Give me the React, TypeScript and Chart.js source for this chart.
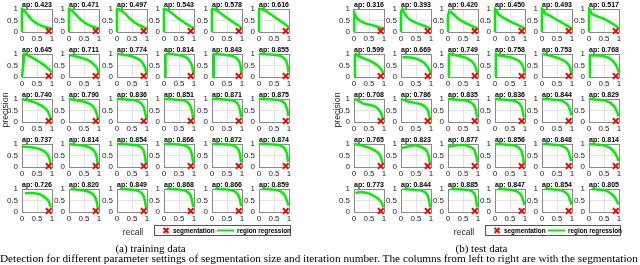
import React, { useEffect, useRef } from "react";
import { Chart, registerables } from "chart.js";

Chart.register(...registerables);

type P = [number, number];

// ---------- data ----------
const tickValues = [0, 0.5, 1];

const trainAP = [
  0.423, 0.471, 0.497, 0.543, 0.578, 0.616,
  0.645, 0.711, 0.774, 0.814, 0.843, 0.855,
  0.74, 0.79, 0.836, 0.851, 0.871, 0.875,
  0.737, 0.814, 0.854, 0.866, 0.872, 0.874,
  0.726, 0.82, 0.849, 0.868, 0.866, 0.859,
];

const testAP = [
  0.316, 0.393, 0.42, 0.45, 0.493, 0.517,
  0.599, 0.669, 0.749, 0.758, 0.753, 0.768,
  0.708, 0.786, 0.835, 0.836, 0.844, 0.829,
  0.765, 0.823, 0.877, 0.856, 0.848, 0.814,
  0.773, 0.844, 0.885, 0.847, 0.854, 0.805,
];

const segmentationTrain: P = [0.89, 0.04];
const segmentationTest: P = [0.89, 0.04];

const trainRow1: P[][] = [
  [[0, 0], [0, 1], [0.05, 0.97], [0.1, 0.9], [0.2, 0.72], [0.3, 0.57], [0.4, 0.45], [0.5, 0.36], [0.6, 0.3], [0.7, 0.25], [0.8, 0.21], [0.9, 0.18], [1, 0.13]],
  [[0, 0], [0, 1], [0.05, 0.98], [0.1, 0.93], [0.2, 0.8], [0.3, 0.66], [0.4, 0.53], [0.5, 0.42], [0.6, 0.34], [0.7, 0.28], [0.8, 0.23], [0.9, 0.19], [1, 0.14]],
  [[0, 0], [0, 1], [0.1, 0.97], [0.2, 0.88], [0.3, 0.76], [0.4, 0.62], [0.5, 0.5], [0.6, 0.4], [0.7, 0.32], [0.8, 0.26], [0.9, 0.2], [1, 0.14]],
  [[0, 0], [0, 1], [0.1, 0.97], [0.2, 0.88], [0.3, 0.78], [0.4, 0.67], [0.5, 0.57], [0.6, 0.48], [0.7, 0.39], [0.8, 0.31], [0.9, 0.23], [1, 0.16]],
  [[0, 0], [0, 1], [0.1, 0.98], [0.2, 0.9], [0.3, 0.8], [0.4, 0.7], [0.5, 0.61], [0.6, 0.52], [0.7, 0.43], [0.8, 0.35], [0.9, 0.26], [1, 0.18]],
  [[0, 0], [0, 1], [0.1, 0.99], [0.2, 0.93], [0.3, 0.85], [0.4, 0.76], [0.5, 0.67], [0.6, 0.58], [0.7, 0.49], [0.8, 0.4], [0.9, 0.3], [1, 0.2]],
];

const trainRow2: P[][] = [
  [[0, 0], [0.08, 1], [0.2, 0.94], [0.3, 0.87], [0.4, 0.8], [0.5, 0.72], [0.6, 0.64], [0.7, 0.55], [0.8, 0.45], [0.9, 0.33], [1, 0.2]],
  [[0, 0.95], [0.1, 0.93], [0.2, 0.9], [0.3, 0.87], [0.4, 0.84], [0.5, 0.8], [0.6, 0.75], [0.7, 0.68], [0.8, 0.58], [0.9, 0.45], [0.95, 0.33], [1, 0.15]],
  [[0, 1], [0.1, 0.99], [0.2, 0.97], [0.3, 0.95], [0.4, 0.92], [0.5, 0.89], [0.6, 0.85], [0.7, 0.79], [0.8, 0.7], [0.9, 0.52], [0.95, 0.35], [0.98, 0.12]],
  [[0.05, 0], [0.05, 0.95], [0.1, 1], [0.2, 1], [0.3, 0.99], [0.4, 0.97], [0.5, 0.95], [0.6, 0.92], [0.7, 0.88], [0.8, 0.8], [0.9, 0.6], [0.95, 0.4], [0.98, 0.12]],
  [[0.05, 0], [0.06, 1], [0.2, 0.99], [0.3, 0.98], [0.4, 0.97], [0.5, 0.95], [0.6, 0.93], [0.7, 0.9], [0.8, 0.84], [0.9, 0.7], [0.95, 0.5], [0.98, 0.15]],
  [[0, 1], [0.2, 0.99], [0.4, 0.98], [0.5, 0.97], [0.6, 0.95], [0.7, 0.92], [0.8, 0.86], [0.9, 0.72], [0.95, 0.5], [0.99, 0.2]],
];

const trainRow3: P[][] = [
  [[0, 1], [0.1, 0.97], [0.2, 0.94], [0.3, 0.9], [0.4, 0.86], [0.5, 0.81], [0.6, 0.75], [0.7, 0.67], [0.8, 0.56], [0.88, 0.42], [0.94, 0.22], [0.97, 0.08]],
  [[0, 1], [0.2, 0.96], [0.4, 0.91], [0.5, 0.88], [0.6, 0.84], [0.7, 0.78], [0.8, 0.68], [0.88, 0.52], [0.94, 0.3], [0.97, 0.1]],
  [[0, 1], [0.2, 0.99], [0.4, 0.97], [0.5, 0.96], [0.6, 0.94], [0.7, 0.9], [0.8, 0.82], [0.88, 0.68], [0.94, 0.42], [0.98, 0.12]],
  [[0, 1], [0.2, 0.99], [0.4, 0.97], [0.5, 0.96], [0.6, 0.95], [0.7, 0.92], [0.8, 0.85], [0.88, 0.7], [0.94, 0.45], [0.97, 0.15]],
  [[0, 1], [0.3, 0.99], [0.5, 0.97], [0.6, 0.96], [0.7, 0.93], [0.8, 0.87], [0.88, 0.74], [0.94, 0.5], [0.97, 0.2]],
  [[0, 1], [0.3, 0.99], [0.5, 0.98], [0.6, 0.96], [0.7, 0.94], [0.8, 0.88], [0.88, 0.76], [0.94, 0.55], [0.98, 0.25]],
];

const trainRow4: P[][] = [
  [[0, 0.88], [0.1, 0.88], [0.2, 0.87], [0.3, 0.86], [0.4, 0.84], [0.5, 0.81], [0.6, 0.77], [0.7, 0.71], [0.8, 0.62], [0.88, 0.48], [0.93, 0.28], [0.96, 0.08]],
  [[0, 1], [0.2, 0.97], [0.4, 0.94], [0.5, 0.92], [0.6, 0.89], [0.7, 0.84], [0.8, 0.76], [0.88, 0.62], [0.93, 0.4], [0.96, 0.1]],
  [[0, 1], [0.3, 0.99], [0.5, 0.97], [0.6, 0.96], [0.7, 0.93], [0.8, 0.87], [0.88, 0.74], [0.93, 0.5], [0.97, 0.12]],
  [[0, 1], [0.3, 0.99], [0.5, 0.98], [0.6, 0.96], [0.7, 0.93], [0.8, 0.87], [0.88, 0.75], [0.93, 0.55], [0.97, 0.18]],
  [[0, 1], [0.3, 0.99], [0.5, 0.98], [0.6, 0.97], [0.7, 0.94], [0.8, 0.88], [0.88, 0.77], [0.93, 0.57], [0.97, 0.2]],
  [[0, 1], [0.3, 0.99], [0.5, 0.98], [0.6, 0.97], [0.7, 0.94], [0.8, 0.88], [0.88, 0.77], [0.93, 0.58], [0.97, 0.22]],
];

const trainRow5: P[][] = [
  [[0.1, 0.82], [0.2, 0.83], [0.3, 0.83], [0.4, 0.82], [0.5, 0.8], [0.6, 0.76], [0.7, 0.7], [0.8, 0.6], [0.88, 0.48], [0.94, 0.3], [0.97, 0.2]],
  [[0.05, 1], [0.2, 0.98], [0.4, 0.95], [0.5, 0.93], [0.6, 0.9], [0.7, 0.85], [0.8, 0.77], [0.88, 0.62], [0.93, 0.42], [0.96, 0.15]],
  [[0.1, 1], [0.3, 0.99], [0.5, 0.97], [0.6, 0.95], [0.7, 0.92], [0.8, 0.85], [0.88, 0.72], [0.93, 0.5], [0.97, 0.15]],
  [[0.1, 1], [0.3, 0.99], [0.5, 0.98], [0.6, 0.96], [0.7, 0.93], [0.8, 0.86], [0.88, 0.74], [0.93, 0.55], [0.97, 0.22]],
  [[0.1, 1], [0.3, 0.99], [0.5, 0.98], [0.6, 0.96], [0.7, 0.93], [0.8, 0.86], [0.88, 0.73], [0.93, 0.55], [0.97, 0.25]],
  [[0.1, 1], [0.3, 0.99], [0.5, 0.97], [0.6, 0.95], [0.7, 0.91], [0.8, 0.82], [0.88, 0.68], [0.94, 0.45], [0.99, 0.28]],
];

const testRow1: P[][] = [
  [[0, 0], [0, 0.75], [0.02, 0.82], [0.05, 0.72], [0.1, 0.6], [0.2, 0.48], [0.3, 0.42], [0.4, 0.37], [0.5, 0.33], [0.6, 0.3], [0.7, 0.26], [0.8, 0.22], [0.9, 0.18], [1, 0.14]],
  [[0, 0], [0, 0.9], [0.05, 1], [0.1, 0.85], [0.2, 0.65], [0.3, 0.53], [0.4, 0.46], [0.5, 0.4], [0.6, 0.35], [0.7, 0.3], [0.8, 0.25], [0.9, 0.2], [1, 0.13]],
  [[0, 0], [0, 0.75], [0.05, 0.88], [0.1, 0.87], [0.2, 0.75], [0.3, 0.62], [0.4, 0.52], [0.5, 0.45], [0.6, 0.38], [0.7, 0.32], [0.8, 0.26], [0.9, 0.2], [1, 0.12]],
  [[0, 0], [0, 1], [0.05, 0.92], [0.1, 0.8], [0.2, 0.68], [0.3, 0.6], [0.4, 0.53], [0.5, 0.46], [0.6, 0.4], [0.7, 0.34], [0.8, 0.28], [0.9, 0.22], [1, 0.15]],
  [[0, 0], [0, 1], [0.05, 0.95], [0.1, 0.8], [0.2, 0.75], [0.3, 0.68], [0.4, 0.6], [0.5, 0.52], [0.6, 0.45], [0.7, 0.38], [0.8, 0.3], [0.9, 0.22], [1, 0.15]],
  [[0, 0], [0, 1], [0.05, 0.9], [0.1, 0.78], [0.2, 0.72], [0.3, 0.67], [0.4, 0.62], [0.5, 0.57], [0.6, 0.5], [0.7, 0.43], [0.8, 0.35], [0.9, 0.26], [1, 0.15]],
];

const testRow2: P[][] = [
  [[0.03, 0], [0.03, 0.95], [0.06, 1], [0.1, 0.95], [0.2, 0.88], [0.3, 0.82], [0.4, 0.77], [0.5, 0.72], [0.6, 0.65], [0.7, 0.58], [0.8, 0.48], [0.9, 0.35], [0.96, 0.2], [1, 0.1]],
  [[0.05, 0.85], [0.1, 0.86], [0.2, 0.86], [0.3, 0.85], [0.4, 0.83], [0.5, 0.8], [0.6, 0.75], [0.7, 0.68], [0.8, 0.58], [0.9, 0.42], [0.95, 0.3], [1, 0.12]],
  [[0.03, 0], [0.03, 0.95], [0.05, 1], [0.2, 0.96], [0.3, 0.93], [0.4, 0.9], [0.5, 0.87], [0.6, 0.83], [0.7, 0.77], [0.8, 0.68], [0.9, 0.5], [0.95, 0.3], [0.98, 0.1]],
  [[0.03, 0], [0.03, 1], [0.1, 0.95], [0.2, 0.92], [0.3, 0.9], [0.4, 0.88], [0.5, 0.86], [0.6, 0.82], [0.7, 0.77], [0.8, 0.7], [0.9, 0.55], [0.95, 0.4], [0.98, 0.2]],
  [[0, 1], [0.1, 0.98], [0.2, 0.95], [0.3, 0.92], [0.4, 0.88], [0.5, 0.84], [0.6, 0.79], [0.7, 0.73], [0.8, 0.65], [0.9, 0.5], [0.95, 0.35], [0.98, 0.1]],
  [[0.03, 0], [0.03, 0.9], [0.06, 0.95], [0.2, 0.94], [0.3, 0.93], [0.4, 0.92], [0.5, 0.9], [0.6, 0.86], [0.7, 0.8], [0.8, 0.7], [0.9, 0.52], [0.95, 0.38], [1, 0.2]],
];

const testRow3: P[][] = [
  [[0, 1], [0.1, 0.95], [0.2, 0.88], [0.3, 0.8], [0.4, 0.77], [0.5, 0.75], [0.6, 0.72], [0.7, 0.67], [0.8, 0.58], [0.9, 0.4], [0.95, 0.2], [0.97, 0.08]],
  [[0, 1], [0.1, 0.95], [0.2, 0.9], [0.3, 0.87], [0.4, 0.85], [0.5, 0.83], [0.6, 0.8], [0.7, 0.75], [0.8, 0.67], [0.88, 0.55], [0.94, 0.3], [0.97, 0.1]],
  [[0, 1], [0.2, 0.98], [0.4, 0.96], [0.5, 0.95], [0.6, 0.93], [0.7, 0.89], [0.8, 0.82], [0.88, 0.7], [0.93, 0.5], [0.97, 0.2]],
  [[0, 1], [0.2, 0.98], [0.4, 0.96], [0.5, 0.95], [0.6, 0.93], [0.7, 0.89], [0.8, 0.82], [0.88, 0.68], [0.93, 0.45], [0.96, 0.2]],
  [[0, 1], [0.2, 0.99], [0.4, 0.97], [0.5, 0.96], [0.6, 0.94], [0.7, 0.9], [0.8, 0.82], [0.88, 0.7], [0.94, 0.5], [0.98, 0.28]],
  [[0, 1], [0.2, 0.98], [0.4, 0.96], [0.5, 0.94], [0.6, 0.9], [0.7, 0.84], [0.8, 0.74], [0.88, 0.6], [0.94, 0.42], [0.99, 0.25]],
];

const testRow4: P[][] = [
  [[0, 1], [0.1, 0.98], [0.2, 0.95], [0.3, 0.92], [0.4, 0.88], [0.5, 0.84], [0.6, 0.78], [0.7, 0.71], [0.8, 0.62], [0.88, 0.48], [0.93, 0.3], [0.96, 0.12]],
  [[0, 0.82], [0.1, 0.85], [0.2, 0.88], [0.3, 0.91], [0.4, 0.93], [0.5, 0.93], [0.6, 0.9], [0.7, 0.85], [0.8, 0.78], [0.88, 0.65], [0.93, 0.45], [0.96, 0.15]],
  [[0, 0.88], [0.1, 0.9], [0.2, 0.92], [0.3, 0.94], [0.4, 0.96], [0.5, 0.96], [0.6, 0.94], [0.7, 0.9], [0.8, 0.84], [0.88, 0.74], [0.94, 0.52], [0.98, 0.2]],
  [[0, 1], [0.2, 0.99], [0.4, 0.97], [0.5, 0.96], [0.6, 0.94], [0.7, 0.91], [0.8, 0.84], [0.88, 0.7], [0.93, 0.45], [0.96, 0.15]],
  [[0, 1], [0.2, 0.99], [0.4, 0.97], [0.5, 0.96], [0.6, 0.94], [0.7, 0.9], [0.8, 0.83], [0.88, 0.68], [0.93, 0.48], [0.97, 0.25]],
  [[0, 1], [0.2, 0.98], [0.4, 0.96], [0.5, 0.94], [0.6, 0.9], [0.7, 0.83], [0.8, 0.72], [0.88, 0.58], [0.94, 0.42], [0.99, 0.25]],
];

const testRow5: P[][] = [
  [[0.05, 0.82], [0.15, 0.86], [0.3, 0.86], [0.4, 0.84], [0.5, 0.8], [0.6, 0.74], [0.7, 0.67], [0.8, 0.58], [0.88, 0.48], [0.94, 0.35], [0.98, 0.2]],
  [[0.1, 1], [0.3, 0.98], [0.5, 0.96], [0.6, 0.94], [0.7, 0.92], [0.8, 0.86], [0.88, 0.75], [0.93, 0.55], [0.97, 0.2]],
  [[0.1, 1], [0.3, 0.99], [0.5, 0.98], [0.6, 0.97], [0.7, 0.95], [0.8, 0.9], [0.88, 0.8], [0.93, 0.6], [0.97, 0.2]],
  [[0.1, 1], [0.3, 0.99], [0.5, 0.97], [0.6, 0.95], [0.7, 0.91], [0.8, 0.84], [0.88, 0.72], [0.94, 0.5], [0.98, 0.3]],
  [[0.1, 1], [0.3, 0.99], [0.5, 0.97], [0.6, 0.95], [0.7, 0.91], [0.8, 0.84], [0.88, 0.72], [0.94, 0.5], [0.98, 0.32]],
  [[0.1, 1], [0.3, 0.98], [0.5, 0.95], [0.6, 0.91], [0.7, 0.84], [0.8, 0.73], [0.88, 0.6], [0.94, 0.45], [0.98, 0.32]],
];

const trainCurves = [...trainRow1, ...trainRow2, ...trainRow3, ...trainRow4, ...trainRow5];
const testCurves = [...testRow1, ...testRow2, ...testRow3, ...testRow4, ...testRow5];

// ---------- layout / style ----------
const SANS = "'Liberation Sans', Arial, Helvetica, sans-serif";
const SERIF = "'Liberation Serif', 'Times New Roman', serif";
const Y_AXIS_W = 22;
const TITLE_H = 9;
const X_AXIS_H = 12;
const PLOT_W = 32;
const PLOT_H = 23;
const PAD_R = 4;
const CW = Y_AXIS_W + PLOT_W + PAD_R;
const CH = TITLE_H + PLOT_H + X_AXIS_H;
const ROW_Y0 = 9;
const ROW_PITCH = 45;
const GREEN = "#00f000";
const RED = "#ff0000";
const BOX = "#8a8a8a";
const GRID = "#e4e4e4";
const TXT = "#262626";

function Mini({ left, top, ap, curve, seg }: { left: number; top: number; ap: number; curve: P[]; seg: P }) {
  const ref = useRef<HTMLCanvasElement>(null);
  useEffect(() => {
    const tickFont = { family: SANS, size: 8, lineHeight: 1 };
    const gridColor = (ctx: any) => (ctx.tick && ctx.tick.value === 0.5 ? GRID : BOX);
    const chart = new Chart(ref.current as HTMLCanvasElement, {
      type: "line",
      data: {
        datasets: [
          {
            type: "line",
            label: "segmentation",
            data: [{ x: seg[0], y: seg[1] }],
            showLine: false,
            pointStyle: "crossRot",
            pointRadius: 4,
            pointBorderWidth: 2,
            pointBorderColor: RED,
            pointBackgroundColor: RED,
            borderColor: RED,
            backgroundColor: RED,
            clip: false,
            order: 0,
          } as any,
          {
            type: "line",
            label: "region regression",
            data: curve.map(([x, y]) => ({ x, y })),
            borderColor: GREEN,
            backgroundColor: GREEN,
            borderWidth: 2.5,
            pointRadius: 0,
            tension: 0,
            fill: false,
            clip: 2,
            order: 1,
          } as any,
        ],
      },
      options: {
        animation: false,
        responsive: false,
        devicePixelRatio: 1,
        events: [],
        layout: { padding: { left: 0, right: PAD_R, top: 0, bottom: 0 } },
        plugins: {
          legend: { display: false },
          tooltip: { enabled: false },
          title: {
            display: true,
            text: "ap: " + ap.toFixed(3),
            fullSize: false,
            color: "#000",
            font: { family: SANS, size: 7.5, weight: "bold", lineHeight: 1.2 },
            padding: { top: 0, bottom: 0 },
          },
        },
        scales: {
          x: {
            type: "linear",
            min: 0,
            max: 1,
            afterBuildTicks: (s: any) => {
              s.ticks = tickValues.map((v) => ({ value: v }));
            },
            afterFit: (s: any) => {
              s.height = X_AXIS_H;
            },
            ticks: {
              font: tickFont,
              color: TXT,
              padding: 3,
              maxRotation: 0,
              autoSkip: false,
              callback: (v: any) => String(v),
            },
            grid: { color: gridColor, drawTicks: false, lineWidth: 1 },
            border: { color: BOX, width: 1 },
          },
          y: {
            type: "linear",
            min: 0,
            max: 1,
            afterBuildTicks: (s: any) => {
              s.ticks = tickValues.map((v) => ({ value: v }));
            },
            afterFit: (s: any) => {
              s.width = Y_AXIS_W;
            },
            ticks: {
              font: tickFont,
              color: TXT,
              padding: 4,
              autoSkip: false,
              callback: (v: any) => String(v),
            },
            grid: { color: gridColor, drawTicks: false, lineWidth: 1 },
            border: { color: BOX, width: 1 },
          },
        },
      } as any,
    });
    return () => chart.destroy();
  }, []);
  return (
    <canvas
      ref={ref}
      width={CW}
      height={CH}
      style={{ position: "absolute", left: left - Y_AXIS_W, top: top - TITLE_H, width: CW, height: CH }}
    />
  );
}

function Panel({ x0, pitch, aps, curves, seg, caption }: { x0: number; pitch: number; aps: number[]; curves: P[][]; seg: P; caption: string }) {
  const colX = (c: number) => Math.round(x0 + pitch * c);
  const right = colX(5) + PLOT_W;
  const items: any[] = [];
  for (let r = 0; r < 5; r++) {
    for (let c = 0; c < 6; c++) {
      const i = r * 6 + c;
      items.push(<Mini key={i} left={colX(c)} top={ROW_Y0 + ROW_PITCH * r} ap={aps[i]} curve={curves[i]} seg={seg} />);
    }
  }
  const legendLeft = colX(3) - 10;
  const recallCx = colX(2) + PLOT_W / 2;
  return (
    <>
      {items}
      <div
        style={{
          position: "absolute",
          left: x0 - 17 - 30,
          top: 110 - 5,
          width: 60,
          height: 10,
          lineHeight: "10px",
          textAlign: "center",
          fontFamily: SANS,
          fontSize: 8.8,
          color: TXT,
          transform: "rotate(-90deg)",
        }}
      >
        precision
      </div>
      <div
        style={{
          position: "absolute",
          left: recallCx - 30,
          top: 231.5 - 5,
          width: 60,
          height: 10,
          lineHeight: "10px",
          textAlign: "center",
          fontFamily: SANS,
          fontSize: 8.5,
          color: TXT,
        }}
      >
        recall
      </div>
      <div
        style={{
          position: "absolute",
          left: legendLeft,
          top: 225,
          width: right - legendLeft,
          height: 11,
          boxSizing: "border-box",
          border: "1px solid #555",
          background: "#fff",
          fontFamily: SANS,
          fontSize: 6.4,
          fontWeight: "bold",
          color: "#000",
        }}
      >
        <svg width={10} height={9} style={{ position: "absolute", left: 6, top: 0 }}>
          <path d="M2.5 2 L7.5 7 M7.5 2 L2.5 7" stroke={RED} strokeWidth={2} />
        </svg>
        <span style={{ position: "absolute", left: 18, top: 0, lineHeight: "9px", whiteSpace: "nowrap" }}>segmentation</span>
        <svg width={18} height={9} style={{ position: "absolute", left: 62, top: 0 }}>
          <path d="M0 4.5 L17 4.5" stroke={GREEN} strokeWidth={2} />
        </svg>
        <span style={{ position: "absolute", left: 82, top: 0, lineHeight: "9px", whiteSpace: "nowrap" }}>region regression</span>
      </div>
      <div
        style={{
          position: "absolute",
          left: (x0 + right) / 2 - 80 - 6,
          top: 242,
          width: 160,
          textAlign: "center",
          fontFamily: SERIF,
          fontSize: 11,
          lineHeight: "12px",
          color: "#000",
        }}
      >
        {caption}
      </div>
    </>
  );
}

export default function App() {
  return (
    <div
      style={{
        position: "absolute",
        left: 0,
        top: 0,
        width: 640,
        height: 265,
        overflow: "hidden",
        background: "#fff",
      }}
    >
      <Panel x0={22} pitch={47.4} aps={trainAP} curves={trainCurves} seg={segmentationTrain} caption="(a) training data" />
      <Panel x0={354} pitch={47} aps={testAP} curves={testCurves} seg={segmentationTest} caption="(b) test data" />
      <div
        style={{
          position: "absolute",
          left: 0,
          top: 253,
          whiteSpace: "nowrap",
          fontFamily: SERIF,
          fontSize: 11.25,
          lineHeight: "11px",
          color: "#000",
        }}
      >
        Detection for different parameter settings of segmentation size and iteration number. The columns from left to right are with the segmentation size
      </div>
    </div>
  );
}
